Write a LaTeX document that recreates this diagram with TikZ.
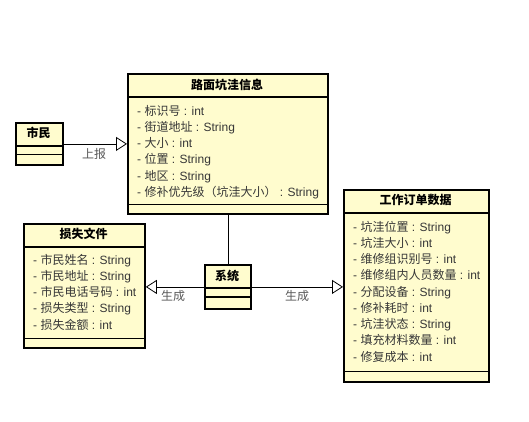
\documentclass[tikz,border=0pt]{standalone}
\usepackage{fontspec}
\setmainfont{Liberation Sans}
\newfontfamily\cjk{Noto Sans CJK SC}
\usetikzlibrary{arrows.meta,calc}
\definecolor{classfill}{RGB}{255,252,206}
\definecolor{attrcol}{RGB}{55,55,55}
\newcommand\attrline[2]{- {\cjk #1} : #2}
\tikzset{
  classbox/.style={draw=black, line width=1.8pt, fill=classfill, anchor=north west, inner sep=0pt},
  sepline/.style={line width=1.2pt},
  titletext/.style={font=\fontsize{12}{14}\selectfont\cjk\bfseries, inner sep=0pt, text height=9pt, text depth=3pt},
  attrtext/.style={font=\fontsize{12}{14}\selectfont, text=attrcol, anchor=west, inner sep=0pt, text height=9pt, text depth=3pt},
  conn/.style={line width=0.8pt, draw=black},
  gen/.style={conn, -{Triangle[open, length=11pt, width=14pt]}},
  lbl/.style={font=\fontsize{12}{14}\selectfont\cjk, text=black!65, inner sep=0pt},
}
\begin{document}
\begin{tikzpicture}[x=1pt,y=-1pt]
\path[use as bounding box, fill=white] (0,0) rectangle (529,421);

% ---- 路面坑洼信息
\node[classbox, minimum width=200pt, minimum height=140pt] (main) at (127,73) {};
\node[titletext] (mainT) at (227,86) {路面坑洼信息};
\draw[sepline] ([yshift=-24pt]main.north west) -- ([yshift=-24pt]main.north east);
\draw[sepline] ([yshift=10pt]main.south west) -- ([yshift=10pt]main.south east);
\node[attrtext] (m1) at (137,112.0) {\attrline{标识号}{int}};
\node[attrtext] (m2) at (137,128.3) {\attrline{街道地址}{String}};
\node[attrtext] (m3) at (137,144.6) {\attrline{大小}{int}};
\node[attrtext] (m4) at (137,160.9) {\attrline{位置}{String}};
\node[attrtext] (m5) at (137,177.2) {\attrline{地区}{String}};
\node[attrtext] (m6) at (137,193.5) {\attrline{修补优先级（坑洼大小）}{String}};

% ---- 市民
\node[classbox, minimum width=47pt, minimum height=42pt] (cit) at (15,122) {};
\node[titletext] (citT) at (38.5,134) {市民};
\draw[sepline] ([yshift=-24pt]cit.north west) -- ([yshift=-24pt]cit.north east);
\draw[sepline] ([yshift=-32.5pt]cit.north west) -- ([yshift=-32.5pt]cit.north east);

% ---- 损失文件
\node[classbox, minimum width=121pt, minimum height=124pt] (loss) at (23,223) {};
\node[titletext] (lossT) at (83.5,235) {损失文件};
\draw[sepline] ([yshift=-24pt]loss.north west) -- ([yshift=-24pt]loss.north east);
\draw[sepline] ([yshift=10pt]loss.south west) -- ([yshift=10pt]loss.south east);
\node[attrtext] (l1) at (33,261.0) {\attrline{市民姓名}{String}};
\node[attrtext] (l2) at (33,277.3) {\attrline{市民地址}{String}};
\node[attrtext] (l3) at (33,293.6) {\attrline{市民电话号码}{int}};
\node[attrtext] (l4) at (33,309.9) {\attrline{损失类型}{String}};
\node[attrtext] (l5) at (33,326.2) {\attrline{损失金额}{int}};

% ---- 系统
\node[classbox, minimum width=46pt, minimum height=44pt] (sys) at (204,264) {};
\node[titletext] (sysT) at (227,277) {系统};
\draw[sepline] ([yshift=-24pt]sys.north west) -- ([yshift=-24pt]sys.north east);
\draw[sepline] ([yshift=-33pt]sys.north west) -- ([yshift=-33pt]sys.north east);

% ---- 工作订单数据
\node[classbox, minimum width=145pt, minimum height=192pt] (work) at (343,189) {};
\node[titletext] (workT) at (415.5,201) {工作订单数据};
\draw[sepline] ([yshift=-24pt]work.north west) -- ([yshift=-24pt]work.north east);
\draw[sepline] ([yshift=11pt]work.south west) -- ([yshift=11pt]work.south east);
\node[attrtext] (w1) at (353,228.00) {\attrline{坑洼位置}{String}};
\node[attrtext] (w2) at (353,244.25) {\attrline{坑洼大小}{int}};
\node[attrtext] (w3) at (353,260.50) {\attrline{维修组识别号}{int}};
\node[attrtext] (w4) at (353,276.75) {\attrline{维修组内人员数量}{int}};
\node[attrtext] (w5) at (353,293.00) {\attrline{分配设备}{String}};
\node[attrtext] (w6) at (353,309.25) {\attrline{修补耗时}{int}};
\node[attrtext] (w7) at (353,325.50) {\attrline{坑洼状态}{String}};
\node[attrtext] (w8) at (353,341.75) {\attrline{填充材料数量}{int}};
\node[attrtext] (w9) at (353,358.00) {\attrline{修复成本}{int}};

% ---- connectors
\draw[gen] (cit.east) -- (cit.east -| main.west);
\node[lbl] (lblA) at (94,154) {上报};
\draw[conn] (main.south) -- (sys.north);
\draw[gen] (sys.west) -- (sys.west -| loss.east);
\node[lbl] (lblB) at (173,296) {生成};
\draw[gen] (sys.east) -- (sys.east -| work.west);
\node[lbl] (lblC) at (297,296) {生成};
\end{tikzpicture}
\end{document}
